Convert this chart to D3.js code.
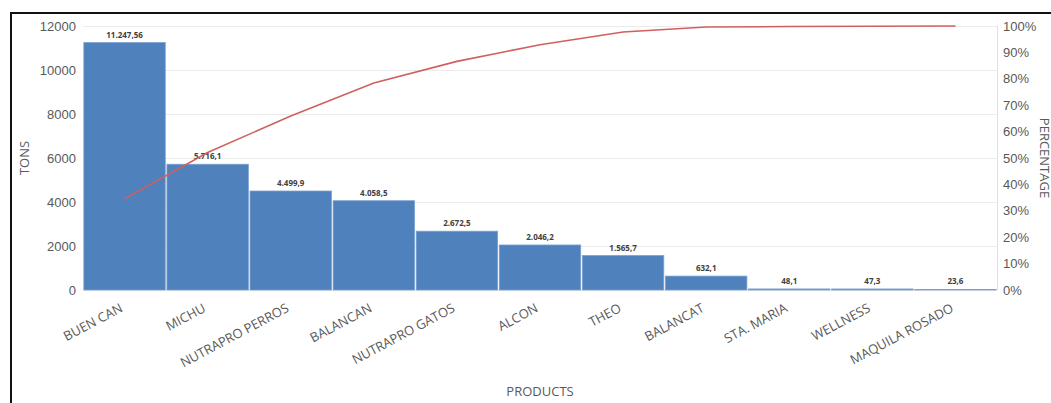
<!DOCTYPE html>
<html>
<head>
<meta charset="utf-8">
<script src="https://cdn.jsdelivr.net/npm/d3@7"></script>
<style>
  body { margin: 0; background: #fff; }
  svg { display: block; font-family: "Open Sans", "Noto Sans", sans-serif; }
</style>
</head>
<body>
<svg id="chart"></svg>
<script>
// Data
const products = ['BUEN CAN', 'MICHU', 'NUTRAPRO PERROS', 'BALANCAN', 'NUTRAPRO GATOS',
    'ALCON', 'THEO', 'BALANCAT', 'STA. MARIA', 'WELLNESS', 'MAQUILA ROSADO'];
const tons = [11247.56, 5716.1, 4499.9, 4058.5, 2672.5, 2046.2, 1565.7, 632.1, 48.1, 47.3, 23.6];
const tonLabels = ['11.247,56', '5.716,1', '4.499,9', '4.058,5', '2.672,5', '2.046,2',
    '1.565,7', '632,1', '48,1', '47,3', '23,6'];
const cumulativePct = [34.5, 52.1, 65.9, 78.4, 86.6, 92.9, 97.7, 99.6, 99.8, 99.9, 100];
const tonTicks = [0, 2000, 4000, 6000, 8000, 10000, 12000];
const pctTicks = [0, 10, 20, 30, 40, 50, 60, 70, 80, 90, 100];

const width = 1051;
const height = 403;
const margin = { top: 26, right: 54, bottom: 113, left: 83 };
const innerWidth = width - margin.left - margin.right;
const innerHeight = height - margin.top - margin.bottom;

const svg = d3.select('#chart')
    .attr('width', width)
    .attr('height', height);

// outer frame (cropped on right/bottom)
svg.append('path')
    .attr('d', `M11,${height + 5} V13 H${width + 5}`)
    .attr('fill', 'none')
    .attr('stroke', '#111')
    .attr('stroke-width', 2);

const g = svg.append('g')
    .attr('transform', `translate(${margin.left}, ${margin.top})`);

const xScale = d3.scaleBand()
    .domain(products)
    .range([0, innerWidth])
    .paddingInner(0.02)
    .paddingOuter(0.01);

const yScale = d3.scaleLinear()
    .domain([0, 12000])
    .range([innerHeight, 0]);

const pScale = d3.scaleLinear()
    .domain([0, 100])
    .range([innerHeight, 0]);

// gridlines
g.append('g')
    .selectAll('line')
    .data(tonTicks)
    .join('line')
    .attr('x1', 0)
    .attr('x2', innerWidth)
    .attr('y1', d => Math.round(yScale(d)) + 0.5)
    .attr('y2', d => Math.round(yScale(d)) + 0.5)
    .attr('stroke', '#ebebeb')
    .attr('stroke-width', 1);

// right axis line
g.append('line')
    .attr('x1', innerWidth + 0.5)
    .attr('x2', innerWidth + 0.5)
    .attr('y1', 0)
    .attr('y2', innerHeight)
    .attr('stroke', '#e0e0e0');

// left axis
const yAxis = d3.axisLeft(yScale).tickValues(tonTicks).tickSize(0).tickPadding(7)
    .tickFormat(d3.format('d'));
g.append('g')
    .call(yAxis)
    .call(s => s.select('.domain').remove())
    .selectAll('text')
    .attr('fill', '#595959')
    .style('font-size', '13px');

// right axis
const pAxis = d3.axisRight(pScale).tickValues(pctTicks).tickSize(0).tickPadding(6)
    .tickFormat(d => d + '%');
g.append('g')
    .attr('transform', `translate(${innerWidth}, 0)`)
    .call(pAxis)
    .call(s => s.select('.domain').remove())
    .selectAll('text')
    .attr('fill', '#595959')
    .style('font-size', '13px');

// bars
g.append('g')
    .selectAll('rect')
    .data(products)
    .join('rect')
    .attr('x', d => xScale(d))
    .attr('y', (d, i) => yScale(tons[i]))
    .attr('width', xScale.bandwidth())
    .attr('height', (d, i) => innerHeight - yScale(tons[i]))
    .attr('fill', '#4f81bd')
    .attr('stroke', '#7aa0d0')
    .attr('stroke-width', 0.8);

// data labels
g.append('g')
    .selectAll('text')
    .data(products)
    .join('text')
    .attr('x', d => xScale(d) + xScale.bandwidth() / 2)
    .attr('y', (d, i) => yScale(tons[i]) - 5)
    .attr('text-anchor', 'middle')
    .attr('fill', '#404040')
    .style('font-size', '8px')
    .style('font-weight', 'bold')
    .text((d, i) => tonLabels[i]);

// cumulative line
const line = d3.line()
    .x((d, i) => xScale(products[i]) + xScale.bandwidth() / 2)
    .y(d => pScale(d));

g.append('path')
    .datum(cumulativePct)
    .attr('d', line)
    .attr('fill', 'none')
    .attr('stroke', '#d0605e')
    .attr('stroke-width', 1.6);

// category labels
g.append('g')
    .selectAll('text')
    .data(products)
    .join('text')
    .attr('transform', d => `translate(${xScale(d) + xScale.bandwidth() / 2 - 1}, ${innerHeight + 21}) rotate(-28)`)
    .attr('text-anchor', 'end')
    .attr('fill', '#595959')
    .style('font-size', '13px')
    .text(d => d);

// axis titles
svg.append('text')
    .attr('x', 540)
    .attr('y', 396)
    .attr('text-anchor', 'middle')
    .attr('fill', '#595959')
    .style('font-size', '13px')
    .text('PRODUCTS');

svg.append('text')
    .attr('transform', 'translate(29, 158) rotate(-90)')
    .attr('text-anchor', 'middle')
    .attr('fill', '#595959')
    .style('font-size', '13px')
    .text('TONS');

svg.append('text')
    .attr('transform', 'translate(1040, 158) rotate(90)')
    .attr('text-anchor', 'middle')
    .attr('fill', '#595959')
    .style('font-size', '13px')
    .text('PERCENTAGE');
</script>
</body>
</html>
